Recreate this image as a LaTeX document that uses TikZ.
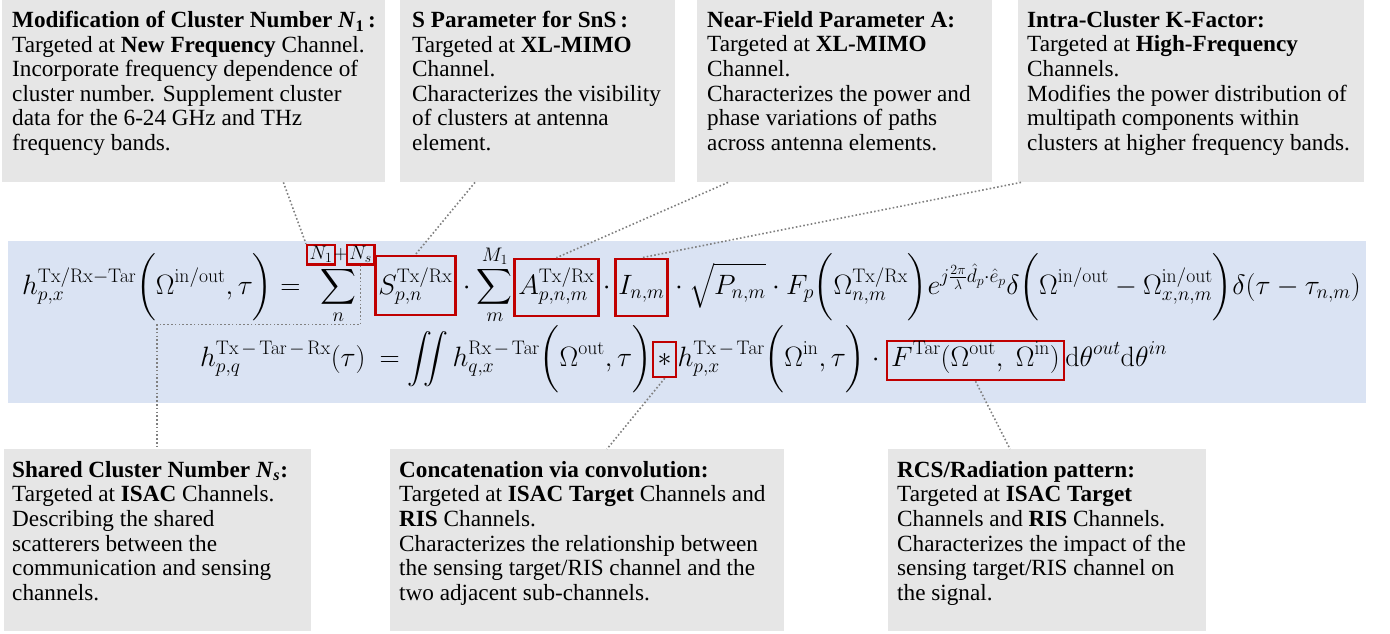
\RequirePackage{fix-cm}
\documentclass[tikz,border=0pt]{standalone}
\usepackage{amsmath}
\usepackage{graphicx}
\usepackage[no-math]{fontspec}
\setmainfont{Liberation Serif}
\usetikzlibrary{calc}
\definecolor{bandblue}{RGB}{218,227,243}
\definecolor{boxgray}{RGB}{230,230,230}
\definecolor{boxred}{RGB}{192,0,0}
\definecolor{conngray}{RGB}{128,128,128}
\newcommand{\Lbig}{\mathopen{\vcenter{\hbox{\scalebox{1}[0.9]{$\biggl($}}}}}
\newcommand{\Rbig}{\mathclose{\vcenter{\hbox{\scalebox{1}[0.9]{$\biggr)$}}}}}
\newcommand{\smin}{\mkern2.5mu{-}\mkern2.5mu}
\tikzset{
  graybox/.style={fill=boxgray, draw=none, inner sep=0pt, anchor=north west},
  boxtext/.style={inner sep=0pt, align=left, anchor=north west, font=\fontsize{23.2}{24.6}\selectfont},
  eqpart/.style={inner sep=0pt, anchor=base west, font=\fontsize{28}{32}\selectfont},
  redbox/.style={draw=boxred, line width=2.5pt, inner ysep=2pt, inner xsep=1.5pt, anchor=base west, font=\fontsize{28}{32}\selectfont},
  conn/.style={draw=conngray, line width=1.6pt, dash pattern=on 1.6pt off 2.2pt},
}
\begin{document}
\begin{tikzpicture}[x=1pt,y=-1pt]
\useasboundingbox (0,0) rectangle (1390,633);
% band
\fill[bandblue] (8,241) rectangle (1366,403);
% top boxes
\node[graybox, minimum width=383pt, minimum height=182pt] (b1) at (2,0) {};
\node[boxtext] (b1t) at (12,11) {\textbf{Modification of Cluster Number \textit{N}\textsubscript{1}\,:}\\
Targeted at \textbf{New Frequency} Channel.\\
Incorporate frequency dependence of\\
cluster number. Supplement cluster\\
data for the 6-24 GHz and THz\\
frequency bands.};
\node[graybox, minimum width=275pt, minimum height=182pt] (b2) at (400,0) {};
\node[boxtext] (b2t) at (412,11) {\textbf{S Parameter for SnS\,:}\\
Targeted at \textbf{XL-MIMO}\\
Channel.\\
Characterizes the visibility\\
of clusters at antenna\\
element.};
\node[graybox, minimum width=295pt, minimum height=182pt] (b3) at (697,0) {};
\node[boxtext] (b3t) at (707,11) {\textbf{Near-Field Parameter A:}\\
Targeted at \textbf{XL-MIMO}\\
Channel.\\
Characterizes the power and\\
phase variations of paths\\
across antenna elements.};
\node[graybox, minimum width=346pt, minimum height=182pt] (b4) at (1018,0) {};
\node[boxtext] (b4t) at (1027,11) {\textbf{Intra-Cluster K-Factor:}\\
Targeted at \textbf{High-Frequency}\\
Channels.\\
Modifies the power distribution of\\
multipath components within\\
clusters at higher frequency bands.};
% bottom boxes
\node[graybox, minimum width=307pt, minimum height=182pt] (b5) at (4,449) {};
\node[boxtext] (b5t) at (12,461) {\textbf{Shared Cluster Number \textit{N}\textsubscript{\textit{s}}:}\\
Targeted at \textbf{ISAC} Channels.\\
Describing the shared\\
scatterers between the\\
communication and sensing\\
channels.};
\node[graybox, minimum width=394pt, minimum height=182pt] (b6) at (390,449) {};
\node[boxtext] (b6t) at (399,461) {\textbf{Concatenation via convolution:}\\
Targeted at \textbf{ISAC Target} Channels and\\
\textbf{RIS} Channels.\\
Characterizes the relationship between\\
the sensing target/RIS channel and the\\
two adjacent sub-channels.};
\node[graybox, minimum width=318pt, minimum height=182pt] (b7) at (888,449) {};
\node[boxtext] (b7t) at (897,461) {\textbf{RCS/Radiation pattern:}\\
Targeted at \textbf{ISAC Target}\\
Channels and \textbf{RIS} Channels.\\
Characterizes the impact of the\\
sensing target/RIS channel on\\
the signal.};
% equation 1
\node[eqpart] (e1a) at (22,294) {$\displaystyle h_{p,x}^{\mathrm{Tx/Rx-Tar}}\Lbig\Omega^{\mathrm{in/out}},\tau\Rbig = {}$};
\node[eqpart] (sum1) at (e1a.base east) {$\displaystyle\sum_{n}^{\phantom{N_1+N_s}}$};
\node[redbox, inner xsep=2.5pt, inner ysep=1.5pt, anchor=north west] (N1) at ([xshift=-2.5pt,yshift=1.5pt]sum1.north west) {$\scriptstyle N_1$};
\node[eqpart] (plus) at ([xshift=-2.5pt]N1.base east) {$\scriptstyle +$};
\node[redbox, inner xsep=2.5pt, inner ysep=1.5pt] (Ns) at ([xshift=-2.5pt]plus.base east) {$\scriptstyle N_s$};
\node[redbox, text height=36pt, text depth=19pt, inner xsep=3pt] (S) at ([xshift=6pt]sum1.base east) {$\displaystyle S_{p,n}^{\mathrm{Tx/Rx}}$};
\node[eqpart] (e1b) at (S.base east) {$\displaystyle {}\cdot\sum_{m}^{M_1}$};
\node[redbox, text height=33pt, text depth=20pt, inner xsep=4pt] (A) at (e1b.base east) {$\displaystyle A_{p,n,m}^{\mathrm{Tx/Rx}}$};
\node[eqpart] (e1c) at (A.base east) {$\displaystyle \mkern2mu\cdot\mkern2mu$};
\node[redbox, text height=33pt, text depth=20pt, inner xsep=3pt] (I) at (e1c.base east) {$\displaystyle I_{n,m}$};
\node[eqpart] (e1d) at (I.base east) {$\displaystyle {}\cdot\sqrt{P_{n,m}}\cdot F_p\Lbig\Omega_{n,m}^{\mathrm{Tx/Rx}}\Rbig e^{j\frac{2\pi}{\lambda}\hat{d}_p\cdot\hat{e}_p}\delta\Lbig\Omega^{\mathrm{in/out}}-\Omega_{x,n,m}^{\mathrm{in/out}}\Rbig\delta(\tau-\tau_{n,m})$};
% equation 2
\node[eqpart] (e2a) at (200,366) {$\displaystyle h_{p,q}^{\mathrm{Tx}\smin\mathrm{Tar}\smin\mathrm{Rx}}(\tau)\mkern4mu = \iint h_{q,x}^{\mathrm{Rx}\smin\mathrm{Tar}}\Lbig\Omega^{\mathrm{out}},\tau\Rbig$};
\node[redbox, text height=22pt, text depth=9pt, inner xsep=4.5pt] (star) at (e2a.base east) {$*$};
\node[eqpart] (e2b) at (star.base east) {$\displaystyle h_{p,x}^{\mathrm{Tx}\smin\mathrm{Tar}}\Lbig\Omega^{\mathrm{in}},\tau\Rbig{}\cdot{}$};
\node[redbox, text height=23pt, text depth=12pt, inner xsep=4pt] (F) at (e2b.base east) {$\displaystyle F^{\mathrm{Tar}}(\Omega^{\mathrm{out}},\mkern5mu\Omega^{\mathrm{in}})$};
\node[eqpart] (e2c) at (F.base east) {$\displaystyle \mathrm{d}\theta^{out}\mathrm{d}\theta^{in}$};
% connectors
\draw[conn] ([xshift=-102pt]b1.south east) -- (N1.north west);
\draw[conn] ([xshift=75pt]b2.south west) -- (S.north);
\draw[conn] ([xshift=31pt]b3.south west) -- (A.north);
\draw[conn] ([xshift=3pt]b4.south west) -- (I.north);
\draw[conn] (Ns.south) -- ([yshift=-59pt]Ns.south) -| ([xshift=153pt]b5.north west);
\draw[conn] (star.south) -- ([xshift=217pt]b6.north west);
\draw[conn] (F.south) -- ([xshift=122pt]b7.north west);
\end{tikzpicture}
\end{document}
